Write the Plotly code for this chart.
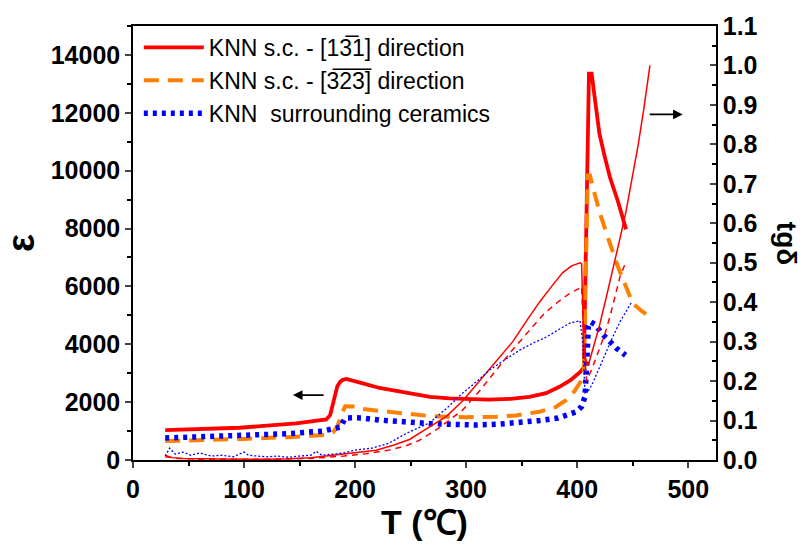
import plotly.graph_objects as go

# ---------------- data ----------------
# permittivity, KNN s.c. [1-31] direction (left axis)
T_e131 = [29, 60, 96, 147, 168, 174, 177.5, 180, 182, 184, 186.5, 189, 192, 200, 207, 222, 237.5, 252,
          267.5, 285, 303, 320, 340, 357, 372, 384, 394, 400, 403, 406, 410.6, 413, 416, 420, 425, 429.5, 437, 444]
e131 = [1035, 1070, 1115, 1265, 1355, 1400, 1550, 1900, 2300, 2550, 2700, 2770, 2800, 2730, 2650, 2490, 2380, 2270,
        2185, 2130, 2100, 2090, 2110, 2185, 2310, 2530, 2760, 2930, 3050, 3200, 13350, 13350, 12400, 11280, 10450, 9770, 8900, 7970]

# permittivity, KNN s.c. [-3-2-3] direction (left axis)
T_e323 = [29, 60, 100, 140, 166, 175, 180, 184, 187, 191, 200, 207, 222, 240, 267, 282, 300, 327, 345, 366,
          380, 390, 397, 403, 406, 409.5, 411.5, 415, 420.5, 428, 435.5, 444.5, 450, 458, 467]
e323 = [655, 680, 730, 790, 830, 870, 950, 1150, 1500, 1860, 1850, 1760, 1700, 1620, 1520, 1495, 1480, 1495, 1540, 1670,
        1820, 2070, 2350, 2700, 3000, 9830, 9830, 9300, 8520, 7650, 6800, 5935, 5420, 5150, 4900]

# permittivity, KNN surrounding ceramics (left axis)
T_ecer = [29, 60, 100, 140, 171, 180, 185, 187, 189, 191, 200, 207, 222, 252, 267, 290, 308, 330, 348.5, 365,
          382.7, 392, 399.5, 404, 407, 408.5, 410, 412, 416, 422, 428.6, 435.5, 443.6]
ecer = [760, 790, 840, 910, 1000, 1070, 1100, 1140, 1300, 1450, 1460, 1450, 1380, 1275, 1260, 1230, 1210, 1240, 1290, 1360,
        1450, 1550, 1670, 1850, 2185, 3220, 4600, 4780, 4690, 4380, 4120, 3860, 3620]

# loss tangent, [1-31] direction (right axis)
T_t131 = [29, 35, 45, 60, 80, 100, 120, 140, 160, 180, 200, 219, 235, 249, 262, 282, 297, 312, 327, 342, 355, 366,
          377, 387, 395, 402.5, 404, 406, 408.5, 410, 414, 420, 426, 432, 438, 444, 450, 455, 460, 465.5]
t131 = [0.012, 0.006, 0.004, 0.003, 0.002, 0.002, 0.002, 0.003, 0.006, 0.012, 0.018, 0.025, 0.038, 0.052, 0.075, 0.11,
        0.15, 0.2, 0.25, 0.3, 0.355, 0.4, 0.44, 0.475, 0.492, 0.50, 0.497, 0.28, 0.245, 0.24, 0.28, 0.34, 0.41, 0.48,
        0.555, 0.63, 0.72, 0.80, 0.89, 1.0]

# loss tangent, [-3-2-3] direction (right axis)
T_t323 = [29, 40, 60, 80, 100, 130, 160, 190, 210, 230, 245, 258, 275, 297, 312, 327.5, 342, 357.5, 370, 381.5,
          392, 402.5, 404, 406, 408.5, 414, 420, 425, 429.5, 434, 438.5, 443.6]
t323 = [0.008, 0.004, 0.002, 0.002, 0.001, 0.002, 0.004, 0.01, 0.016, 0.025, 0.035, 0.05, 0.08, 0.127, 0.175, 0.228,
        0.28, 0.33, 0.37, 0.398, 0.42, 0.436, 0.44, 0.3, 0.2, 0.236, 0.28, 0.32, 0.363, 0.41, 0.464, 0.5]

# loss tangent, surrounding ceramics (right axis)
T_tcer = [29, 33, 38, 45, 52, 60, 70, 80, 90, 100, 104, 110, 120, 130, 140, 150, 160, 165, 170, 180, 190, 200, 215,
          230, 246.5, 267, 282, 297, 310, 321, 335, 348.5, 360, 372.5, 383, 393.5, 402.5, 405, 407, 410, 414, 420,
          426.5, 432, 438.5, 444, 449]
tcer = [0.01, 0.03, 0.015, 0.02, 0.012, 0.018, 0.01, 0.012, 0.008, 0.02, 0.012, 0.01, 0.008, 0.01, 0.007, 0.01, 0.012,
        0.022, 0.012, 0.015, 0.018, 0.025, 0.03, 0.042, 0.068, 0.094, 0.13, 0.17, 0.2, 0.228, 0.255, 0.279, 0.296,
        0.312, 0.33, 0.347, 0.353, 0.3, 0.17, 0.175, 0.195, 0.235, 0.279, 0.312, 0.35, 0.375, 0.40]

names = ["KNN s.c. - [1" + "3\u0305" + "1] direction",
         "KNN s.c. - [" + "3\u0305" + "2\u0305" + "3\u0305" + "] direction",
         "KNN  surrounding ceramics"]

RED, ORANGE, BLUE = "#FF0000", "#FF8000", "#0000FF"
FONT = "Liberation Sans, Arial, sans-serif"

fig = go.Figure()
# thin loss-tangent curves (right axis)
fig.add_trace(go.Scatter(x=T_t131, y=t131, yaxis="y2", mode="lines", showlegend=False,
                         line=dict(color=RED, width=1.5)))
fig.add_trace(go.Scatter(x=T_t323, y=t323, yaxis="y2", mode="lines", showlegend=False,
                         line=dict(color=RED, width=1.5, dash="6px,5px")))
fig.add_trace(go.Scatter(x=T_tcer, y=tcer, yaxis="y2", mode="lines", showlegend=False,
                         line=dict(color=BLUE, width=1.3, dash="2px,2px")))
# thick permittivity curves (left axis)
fig.add_trace(go.Scatter(x=T_e131, y=e131, mode="lines", name=names[0],
                         line=dict(color=RED, width=3.8)))
fig.add_trace(go.Scatter(x=T_e323, y=e323, mode="lines", name=names[1],
                         line=dict(color=ORANGE, width=4, dash="15px,9px")))
fig.add_trace(go.Scatter(x=T_ecer, y=ecer, mode="lines", name=names[2],
                         line=dict(color=BLUE, width=5.5, dash="4px,5px")))

tickfont = dict(family=FONT, size=25, color="black", weight="bold")
fig.update_layout(
    width=809, height=549,
    margin=dict(l=133, r=93, t=26, b=89),
    paper_bgcolor="white", plot_bgcolor="white",
    font=dict(family=FONT, color="black"),
    xaxis=dict(range=[0, 525], dtick=100, tick0=0, ticks="outside", ticklen=6, tickwidth=1.5,
               showline=True, linecolor="black", linewidth=1.5, mirror=True, showgrid=False, zeroline=False,
               minor=dict(dtick=50, ticks="outside", ticklen=4, tickwidth=1.5, tickcolor="black"),
               tickfont=tickfont,
               title=dict(text="T (\u2103)", font=dict(family=FONT, size=34, weight="bold"), standoff=6)),
    yaxis=dict(range=[0, 15000], tickvals=[0, 2000, 4000, 6000, 8000, 10000, 12000, 14000],
               ticktext=["0", "2000", "4000", "6000", "8000", "10000", "12000", "14000"],
               ticks="outside", ticklen=6, tickwidth=1.5,
               showline=True, linecolor="black", linewidth=1.5, showgrid=False, zeroline=False,
               minor=dict(dtick=1000, tick0=0, ticks="outside", ticklen=4, tickwidth=1.5, tickcolor="black"),
               tickfont=tickfont,
               title=dict(text="\u03b5", font=dict(family=FONT, size=38, weight="bold"), standoff=10)),
    yaxis2=dict(range=[0, 1.1], overlaying="y", side="right", dtick=0.1, tick0=0, tickformat=".1f",
                ticks="inside", ticklen=6, tickwidth=1.5,
                showline=True, linecolor="black", linewidth=1.5, showgrid=False, zeroline=False,
                minor=dict(dtick=0.05, tick0=0, ticks="inside", ticklen=4, tickwidth=1.5, tickcolor="black"),
                tickfont=tickfont),
    legend=dict(x=0.01, y=1.0, xanchor="left", yanchor="top", bgcolor="rgba(0,0,0,0)",
                font=dict(family=FONT, size=23, color="black"), itemwidth=60, tracegroupgap=0),
    annotations=[
        dict(x=144, y=2243, ax=173, ay=2243, xref="x", yref="y", axref="x", ayref="y",
             showarrow=True, arrowhead=2, arrowsize=1.2, arrowwidth=1.6, arrowcolor="black", text=""),
        dict(x=495, y=0.876, ax=464, ay=0.876, xref="x", yref="y2", axref="x", ayref="y2",
             showarrow=True, arrowhead=2, arrowsize=1.2, arrowwidth=1.6, arrowcolor="black", text=""),
        dict(text="tg\u03b4", x=1.122, y=0.5, xref="paper", yref="paper", showarrow=False, textangle=90,
             font=dict(family=FONT, size=28, weight="bold", color="black"), xanchor="center", yanchor="middle"),
    ],
)

fig.write_html("out.html")
